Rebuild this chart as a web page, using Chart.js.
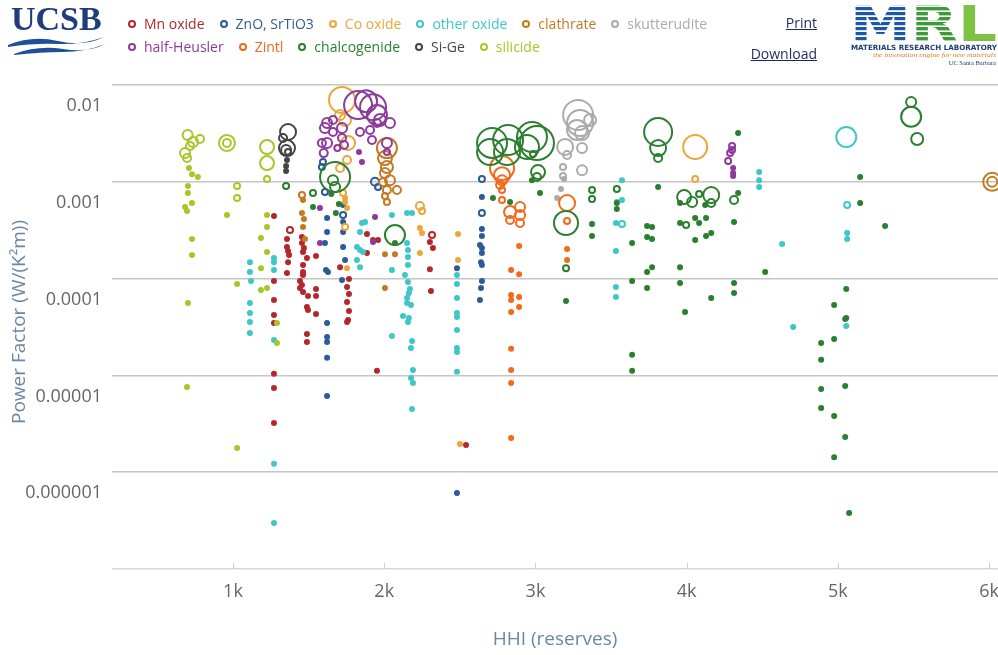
<!DOCTYPE html>
<html><head><meta charset="utf-8">
<script src="https://cdn.jsdelivr.net/npm/chart.js@4.4.1/dist/chart.umd.min.js"></script>
<style>
html,body{margin:0;padding:0;overflow:hidden;background:#fff;width:998px;height:655px;}
#wrap{position:absolute;left:0;top:0;width:1030px;height:655px;}
#ucsb{position:absolute;left:11px;top:2px;font:bold 34px "Liberation Serif","Times New Roman",serif;color:#1f3d7a;letter-spacing:0px;line-height:34px;}
#waves{position:absolute;left:6px;top:34px;}
#legend{position:absolute;left:128px;top:12px;font:14px "Open Sans",sans-serif;z-index:2;}
.row{display:flex;align-items:center;height:23px;white-space:nowrap;}
.item{display:flex;align-items:center;margin-right:15px;}
.mk{width:4px;height:4px;border:2px solid;border-radius:50%;margin-right:8px;}
.lnk{position:absolute;left:700px;width:117px;text-align:right;font:14px "Open Sans",sans-serif;color:#1a2a5c;text-decoration:underline;line-height:18px;}
#mrl{position:absolute;left:849px;top:2px;}
</style></head>
<body>
<div id="wrap"><canvas id="c"></canvas></div>
<div id="ucsb">UCSB</div>
<svg id="waves" width="100" height="22">
<path d="M2,11 Q26,1 52,7 T98,3 Q76,11 52,10 T2,13 Z" fill="#1f4f9a"/>
<path d="M8,20 Q32,11 57,15 T99,10 Q79,18 57,18 T8,21 Z" fill="#1f4f9a"/>
</svg>
<div id="legend"></div>
<div class="lnk" style="top:14px">Print</div>
<div class="lnk" style="top:45px">Download</div>
<svg id="mrl" width="150" height="64">
<defs>
<pattern id="pb" width="6" height="5" patternUnits="userSpaceOnUse"><rect width="6" height="3.2" fill="#1d58a6"/></pattern>
<pattern id="pg" width="6" height="5" patternUnits="userSpaceOnUse"><rect width="6" height="3.4" fill="#3d9a3a"/></pattern>
</defs>
<text x="1" y="39" font-family="DejaVu Sans" font-weight="bold" font-size="50" textLength="147" lengthAdjust="spacingAndGlyphs"><tspan fill="url(#pb)">M</tspan><tspan fill="url(#pg)">R</tspan><tspan fill="#7dc242">L</tspan></text>
<text x="2" y="47.5" font-size="7.2" font-weight="bold" fill="#1f3c74" textLength="146" lengthAdjust="spacingAndGlyphs" font-family="DejaVu Sans">MATERIALS RESEARCH LABORATORY</text>
<text x="24" y="55" font-size="6.5" font-style="italic" fill="#e07b20" textLength="123" lengthAdjust="spacingAndGlyphs" font-family="Liberation Serif">the innovation engine for new materials</text>
<text x="147" y="62.5" font-size="6.5" fill="#1f3c74" text-anchor="end" font-family="Liberation Serif">UC Santa Barbara</text>
</svg>
<script>
// ---- data: [HHI (reserves), power factor W/(K^2 m), bubble size] ----
const mnOxide = [
[1271,4.43e-4,2],[1271,9.45e-5,2],[1271,6.01e-5,2],[1271,4.21e-5,2],[1271,3.48e-5,2],[1271,1.04e-5,2],[1271,7.41e-6,2],[1271,3.22e-6,2],
[1377,3.18e-4,3],[1357,2.56e-4,2],[1357,2.12e-4,2],[1364,1.93e-4,2],[1371,1.75e-4,2],[1364,1.48e-4,2],[1357,1.14e-4,2],
[1456,2.69e-4,2],[1456,2.33e-4,2],[1469,2.07e-4,2],[1463,1.88e-4,2],[1489,1.63e-4,2],[1463,1.38e-4,2],[1463,1.17e-4,2],[1463,1.09e-4,2],
[1443,9.45e-5,2],[1456,8.59e-5,2],[1443,8.0e-5,2],[1463,7.27e-5,2],[1496,6.61e-5,2],[1549,7.81e-5,2],[1549,6.61e-5,2],[1489,5.09e-5,2],
[1496,4.74e-5,2],[1549,4.31e-5,2],[1489,2.68e-5,2],[1489,2.21e-5,2],[1549,1.71e-4,2],
[1767,9.9e-5,2],[1754,8.19e-5,2],[1767,6.94e-5,2],[1754,5.74e-5,2],[1767,4.63e-5,2],[1761,3.73e-5,2],[1754,3.56e-5,2],[1708,1.31e-4,2],
[1886,2.89e-4,2],[1926,2.5e-4,2],[1959,2.5e-4,2],[1886,1.84e-4,2],[1952,1.12e-5,2],
[2316,2.82e-4,3],[2302,2.39e-4,2],[2322,2.07e-4,2],[2302,1.25e-4,2],[2309,7.45e-5,2],[2541,1.91e-6,2]
];
const znoSrTiO3 = [
[1622,4.23e-4,2],[1622,3.03e-4,2],[1608,2.33e-4,2],[1615,1.23e-4,2],[1628,1.17e-4,2],[1622,3.48e-5,2],[1622,2.5e-5,2],[1622,2.21e-5,2],
[1622,1.52e-5,2],[1622,6.13e-6,2],[1728,4.54e-4,3],[1728,3.84e-4,2],[1728,3.03e-4,2],[1728,2.12e-4,2],[1741,1.56e-4,2],[1721,9.67e-5,2],
[1595,1.6e-3,3],[1588,1.42e-3,3],[1608,7.85e-4,3],[1728,5.76e-4,2],[1939,1.0e-3,4],[1959,8.84e-4,3],
[2646,1.07e-3,3],[2646,6.96e-4,2],[2646,4.76e-4,3],[2646,3.25e-4,2],[2646,2.76e-4,2],[2633,2.22e-4,2],[2646,2.07e-4,2],[2646,1.84e-4,2],
[2640,1.48e-4,2],[2646,1.38e-4,2],[2646,9.45e-5,2],[2640,8.0e-5,2],[2633,6.01e-5,2],[2481,1.28e-4,2],[2481,6.1e-7,2]
];
const coOxide = [
[1721,7.0e-3,13],[1741,4.35e-3,6],[1708,4.9e-3,5],[1761,2.52e-3,7],[1754,1.68e-3,4],[1708,1.39e-3,4],[1728,7.66e-4,3],[1741,6.8e-4,2],
[1741,6.18e-4,2],[1754,5.36e-4,2],[1741,3.41e-4,3],[1754,1.28e-4,2],
[4056,2.29e-3,12],[4056,1.07e-3,3],[2236,5.62e-4,4],[2250,4.99e-4,3],[2236,3.33e-4,2],[2250,2.96e-4,2],[2236,1.84e-4,2],
[2488,2.89e-4,2],[2488,1.56e-4,2],[2501,1.96e-6,2]
];
const otherOxide = [
[1112,1.48e-4,2],[1112,1.17e-4,2],[1119,9.45e-5,2],[1112,5.6e-5,2],[1112,4.41e-5,2],[1112,3.56e-5,2],[1112,2.75e-5,2],
[1271,1.63e-4,2],[1271,1.48e-4,2],[1271,1.23e-4,2],[1271,2.32e-5,2],[1271,1.22e-6,2],[1271,2.98e-7,2],
[1853,3.75e-4,2],[1873,3.84e-4,2],[1840,3.03e-4,2],[1820,2.12e-4,2],[1840,1.97e-4,2],[1860,1.88e-4,2],[1820,1.56e-4,2],[1840,1.31e-4,2],
[2051,4.54e-4,2],[2051,1.23e-4,2],[2151,4.76e-4,2],[2184,4.76e-4,2],[2151,2.33e-4,2],[2157,1.97e-4,2],[2157,1.67e-4,2],[2157,1.38e-4,2],
[2137,1.09e-4,2],[2157,9.22e-5,2],[2170,7.81e-5,2],[2163,7.1e-5,2],[2151,6.31e-5,2],[2151,5.6e-5,2],[2177,5.34e-5,2],[2124,4.11e-5,2],
[2163,3.92e-5,2],[2157,3.56e-5,2],[2051,2.56e-5,2],[2184,2.27e-5,2],[2177,1.92e-5,2],[2190,1.14e-5,2],[2177,9.4e-6,2],[2190,8.35e-6,2],[2184,4.5e-6,2],
[2481,6.31e-5,2],[2481,4.41e-5,2],[2481,4.01e-5,2],[2481,2.95e-5,2],[2481,1.92e-5,2],[2481,1.75e-5,2],[2481,1.09e-5,2],[2481,1.09e-4,2],[2481,8.8e-5,2],
[3572,1.04e-3,2],[3572,6.49e-4,2],[3538,6.18e-4,2],[3532,3.75e-4,2],[3572,3.66e-4,3],[3532,1.93e-4,2],[3532,8.19e-5,2],[3532,6.46e-5,2],
[4479,1.26e-3,2],[4479,1.04e-3,2],[4479,8.84e-4,2],[4631,2.28e-4,2],[4704,3.17e-5,2],
[5055,2.9e-3,10],[5061,5.76e-4,3],[5061,2.96e-4,2],[5061,2.56e-4,2],[5055,3.24e-5,2]
];
const clathrate = [
[2018,2.23e-3,10],[2005,1.76e-3,7],[2018,1.42e-3,6],[2005,1.23e-3,5],[2038,1.04e-3,5],[1992,9.9e-4,4],[2084,8.23e-4,4],[2018,8.23e-4,4],
[2005,7.13e-4,3],[2018,6.18e-4,3],[6020,1.0e-3,9],[6020,1.0e-3,5],
[1456,7.3e-4,3],[1463,6.49e-4,2],[1456,4.76e-4,2],[1469,4.13e-4,2],[1463,3.41e-4,2],[1476,2.56e-4,2],
[2005,1.79e-4,2],[2071,1.79e-4,2],[2005,8.0e-5,2]
];
const skutterudite = [
[3282,4.9e-3,15],[3295,4.05e-3,13],[3275,3.43e-3,10],[3308,3.19e-3,7],[3361,4.35e-3,6],[3196,2.29e-3,8],[3308,2.23e-3,5],[3209,1.89e-3,4],
[3308,1.32e-3,5],[3182,1.42e-3,3],[3182,1.15e-3,3],[3189,1.07e-3,2],[3169,8.43e-4,2],[3143,6.8e-4,2]
];
const halfHeusler = [
[1827,6.2e-3,14],[1926,5.9e-3,13],[1880,6.8e-3,11],[1952,4.9e-3,10],[1972,4.35e-3,6],[2038,4.05e-3,5],[1622,4.05e-3,5],[1608,3.6e-3,5],
[1661,3.27e-3,4],[1721,3.6e-3,5],[1721,2.83e-3,4],[1622,2.52e-3,5],[1588,2.52e-3,4],[1840,3.27e-3,4],[1906,3.43e-3,4],[1919,2.7e-3,4],
[2018,2.52e-3,5],[2018,2.03e-3,3],[1952,4.05e-3,4],[1661,4.35e-3,4],[1734,2.4e-3,4],[1833,2.03e-3,2],[1853,1.6e-3,2],[1600,1.98e-3,4],[1690,2.23e-3,3],
[1575,2.33e-4,2],[1575,5.36e-4,2],[1926,2.39e-4,2],[1939,4.33e-4,2],
[4300,2.35e-3,3],[4300,2.13e-3,3],[4287,1.98e-3,3],[4274,1.64e-3,3],[4307,1.39e-3,2],[4307,1.23e-3,2],[4307,1.15e-3,2]
];
const zintl = [
[2779,1.39e-3,12],[2779,1.17e-3,8],[2779,1.04e-3,5],[2766,9.27e-4,4],[2779,8.23e-4,3],[2779,6.49e-4,3],[2832,4.87e-4,6],[2898,5.49e-4,5],
[2898,4.54e-4,5],[2832,4.03e-4,4],[2898,3.75e-4,4],[3209,6.04e-4,8],[3209,3.93e-4,3],[3209,2.02e-4,2],[3209,1.56e-4,2],
[2892,2.17e-4,2],[2839,1.23e-4,2],[2892,1.11e-4,2],[2839,6.77e-5,2],[2839,6.01e-5,2],[2892,6.46e-5,2],[2892,5.09e-5,2],[2839,4.52e-5,2],
[2839,1.88e-5,2],[2839,1.14e-5,2],[2839,8.35e-6,2],[2839,2.26e-6,2]
];
const chalcogenide = [
[1675,1.12e-3,15],[1661,1.04e-3,5],[1675,8.84e-4,5],[1650,7.5e-4,2],[1700,5.9e-4,2],[1680,4.76e-4,2],
[2071,2.82e-4,10],[2071,2.33e-4,2],[1351,9.05e-4,3],[1529,7.66e-4,3],[1529,5.49e-4,2],
[2713,2.52e-3,15],[2819,2.7e-3,15],[2977,2.9e-3,15],[3010,2.52e-3,17],[2700,2.03e-3,13],[2812,2.03e-3,13],[2944,2.29e-3,12],[2984,1.94e-3,3],
[3017,1.26e-3,7],[3010,1.12e-3,4],[2977,1.04e-3,2],[3030,7.66e-4,2],[2719,6.8e-4,2],[2832,6.18e-4,2],
[3202,3.75e-4,12],[3202,1.28e-4,3],[3202,5.87e-5,2],[3374,8.23e-4,3],[3374,6.64e-4,3],[3374,3.66e-4,2],[3374,2.76e-4,2],
[3538,8.43e-4,3],[3538,6.04e-4,2],[3538,5.23e-4,2],[3639,2.33e-4,2],[3639,9.45e-5,2],[3738,3.49e-4,2],[3771,3.41e-4,2],[3738,2.69e-4,2],
[3771,2.56e-4,2],[3738,1.17e-4,2],[3771,1.31e-4,2],[3738,8.0e-5,2],
[3811,3.27e-3,14],[3811,2.23e-3,8],[3811,1.76e-3,4],[3811,8.84e-4,2],
[3983,6.96e-4,7],[4036,6.18e-4,5],[4082,7.48e-4,3],[4162,7.3e-4,8],[4162,6.04e-4,4],[4122,5.76e-4,2],[3956,6.04e-4,2],[3996,3.58e-4,3],
[3956,3.75e-4,2],[4056,4.23e-4,2],[4082,3.75e-4,2],[4056,2.5e-4,2],[4128,2.76e-4,2],[4162,2.96e-4,2],[3956,1.31e-4,2],[3956,9.0e-5,2],[4128,4.23e-4,2],
[4313,6.49e-4,4],[4313,3.84e-4,2],[4340,3.19e-3,2],[4340,7.66e-4,2],[4313,9.0e-5,2],[4313,7.1e-5,2],[4162,6.31e-5,2],[4519,1.17e-4,2],
[5055,7.81e-5,2],[4975,5.34e-5,2],[5055,3.92e-5,2],[5147,1.12e-3,2],[5147,6.04e-4,2],[5312,3.49e-4,2],
[5484,6.68e-3,5],[5484,4.7e-3,10],[5524,2.77e-3,6],
[5048,3.82e-5,2],[4975,2.38e-5,2],[4889,2.16e-5,2],[4889,1.45e-5,2],[4889,7.24e-6,2],[5048,7.77e-6,2],[4889,4.61e-6,2],[4975,3.81e-6,2],
[5048,2.31e-6,2],[4975,1.43e-6,2],[5074,3.79e-7,2],[3639,1.63e-5,2],[3639,1.12e-5,2],[3989,4.52e-5,2]
];
const siGe = [
[1364,3.27e-3,8],[1357,2.23e-3,8],[1351,2.13e-3,5],[1364,2.03e-3,3],[1331,2.83e-3,4],[1357,1.68e-3,2],[1351,1.46e-3,2],[1351,1.29e-3,2]
];
const silicide = [
[700,3.04e-3,5],[736,2.58e-3,5],[782,2.77e-3,4],[683,1.98e-3,5],[696,1.76e-3,4],[716,2.35e-3,4],[709,1.39e-3,2],[729,1.2e-3,2],[768,1.12e-3,2],
[702,9.05e-4,2],[702,7.66e-4,2],[729,6.04e-4,2],[696,4.99e-4,2],[683,5.49e-4,2],[729,2.56e-4,2],[729,1.75e-4,2],[702,5.6e-5,2],[696,7.59e-6,2],
[960,2.52e-3,8],[960,2.52e-3,4],[1027,9.05e-4,3],[1027,6.8e-4,3],[960,4.54e-4,2],[1027,1.78e-6,2],[1027,8.8e-5,2],
[1225,2.29e-3,7],[1225,1.56e-3,7],[1225,1.07e-3,3],[1225,4.54e-4,2],[1225,3.41e-4,2],[1185,2.63e-4,2],[1225,1.88e-4,2],[1185,1.28e-4,2],
[1185,7.63e-5,2],[1225,8.0e-5,2],[1291,3.48e-5,2],[1291,2.16e-5,2]
];

const seriesNames = ['Mn oxide','ZnO, SrTiO3','Co oxide','other oxide','clathrate','skutterudite','half-Heusler','Zintl','chalcogenide','Si-Ge','silicide'];
const seriesValues = [mnOxide, znoSrTiO3, coOxide, otherOxide, clathrate, skutterudite, halfHeusler, zintl, chalcogenide, siGe, silicide];
const xTickValues = [1000, 2000, 3000, 4000, 5000, 6000];
const xTickLabels = ['1k', '2k', '3k', '4k', '5k', '6k'];
const yTickValues = [1e-7, 1e-6, 1e-5, 1e-4, 1e-3, 1e-2];
const yTickLabels = ['', '0.000001', '0.00001', '0.0001', '0.001', '0.01'];
const xTitle = 'HHI (reserves)';
const yTitle = 'Power Factor (W/(K²m))';

// ---- styles ----
const seriesColors = ['#b3282d','#2d5b9a','#eda63c','#3fc7c7','#c47a22','#ababab','#8d3b9d','#f26a1b','#2b7f2f','#454545','#a8c62a'];
const titleColor = '#6c87a3';
const titleFont = '19px "Open Sans"';

// legend (HTML)
const legendRows = [seriesNames.slice(0, 6), seriesNames.slice(6)];
const legendEl = document.getElementById('legend');
legendRows.forEach(row => {
  const r = document.createElement('div'); r.className = 'row';
  row.forEach(name => {
    const i = seriesNames.indexOf(name);
    const it = document.createElement('div'); it.className = 'item';
    const mk = document.createElement('span'); mk.className = 'mk'; mk.style.borderColor = seriesColors[i];
    const tx = document.createElement('span'); tx.textContent = name; tx.style.color = seriesColors[i];
    it.appendChild(mk); it.appendChild(tx); r.appendChild(it);
  });
  legendEl.appendChild(r);
});

const datasets = seriesValues.map((arr, i) => ({
  label: seriesNames[i],
  data: arr.map(([x, y, s]) => ({x: x, y: y, r: s})),
  borderColor: seriesColors[i],
  backgroundColor: ctx => (ctx.raw && ctx.raw.r <= 2) ? seriesColors[i] : 'rgba(0,0,0,0)',
  borderWidth: 2,
  order: seriesValues.length - i
}));

const VISIBLE_WIDTH = 998;
const axisExtras = {
  id: 'axisExtras',
  afterDraw(chart) {
    const xs = chart.scales.x, ys = chart.scales.y, ctx = chart.ctx, area = chart.chartArea;
    const y0 = ys.getPixelForValue(yTickValues[0]);
    ctx.save(); ctx.strokeStyle = '#c3cfdb'; ctx.lineWidth = 1;
    xTickValues.forEach(v => {
      const px = Math.round(xs.getPixelForValue(v)) + 0.5;
      ctx.beginPath(); ctx.moveTo(px, y0); ctx.lineTo(px, y0 - 6); ctx.stroke();
    });
    // x-axis title centred on the visible part of the plot
    ctx.fillStyle = titleColor; ctx.font = titleFont;
    ctx.textAlign = 'center'; ctx.textBaseline = 'middle';
    ctx.fillText(xTitle, (area.left + Math.min(area.right, VISIBLE_WIDTH)) / 2, xs.bottom - 15);
    ctx.restore();
  }
};

new Chart(document.getElementById('c'), {
  type: 'bubble',
  data: { datasets },
  plugins: [axisExtras],
  options: {
    responsive: true, maintainAspectRatio: false, animation: false, events: [],
    layout: { autoPadding: false, padding: { top: 75, left: 0, right: 0, bottom: 0 } },
    plugins: { legend: { display: false }, tooltip: { enabled: false } },
    scales: {
      x: {
        type: 'linear', min: 200, max: 6270,
        afterBuildTicks: s => { s.ticks = xTickValues.map(v => ({ value: v })); },
        afterFit: s => { s.height = 86; },
        grid: { display: false, drawTicks: false },
        border: { display: false },
        ticks: { autoSkip: false, maxRotation: 0, padding: 12, color: '#666',
                 font: { family: '"Open Sans"', size: 18 },
                 callback: v => xTickLabels[xTickValues.indexOf(v)] ?? '' },
        title: { display: false }
      },
      y: {
        type: 'logarithmic', min: 1e-7, max: 0.01269,
        afterBuildTicks: s => { s.ticks = yTickValues.map(v => ({ value: v })); },
        afterFit: s => { s.width = 112; },
        grid: { drawTicks: false, lineWidth: 1.5,
                color: c => (c.tick && c.tick.value === yTickValues[0]) ? '#cfd9e4' : '#c6c6c6' },
        border: { display: false },
        ticks: { autoSkip: false, padding: 10, labelOffset: 21, color: '#666',
                 font: { family: '"Open Sans"', size: 18 },
                 callback: v => { const k = yTickValues.indexOf(v); return k >= 0 ? yTickLabels[k] : ''; } },
        title: { display: true, text: yTitle, color: titleColor,
                 font: { family: '"Open Sans"', size: 19 }, padding: { top: 8, bottom: 0 } }
      }
    }
  }
});
</script>
</body></html>
